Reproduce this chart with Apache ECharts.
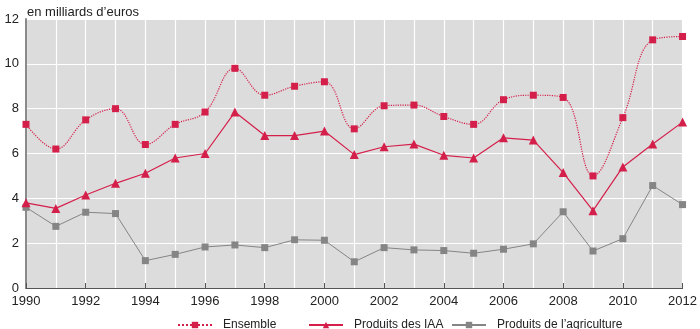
<!DOCTYPE html>
<html><head><meta charset="utf-8">
<script src="https://cdn.jsdelivr.net/npm/echarts@6/dist/echarts.min.js"></script>
<style>html,body{margin:0;padding:0;background:#fff}#c{width:700px;height:329px}</style>
</head><body><div id="c"></div>
<script>
const years = ['1990','1991','1992','1993','1994','1995','1996','1997','1998','1999','2000','2001','2002','2003','2004','2005','2006','2007','2008','2009','2010','2011','2012'];
const ensemble = [7.3,6.2,7.5,8.0,6.4,7.3,7.85,9.8,8.6,9.0,9.2,7.1,8.13,8.16,7.65,7.3,8.4,8.6,8.5,5.0,7.6,11.07,11.22];
const iaa = [3.8,3.55,4.15,4.67,5.12,5.8,6.0,7.85,6.8,6.8,7.0,5.95,6.3,6.42,5.92,5.8,6.7,6.6,5.15,3.45,5.4,6.42,7.4];
const agri = [3.6,2.75,3.38,3.32,1.22,1.5,1.83,1.92,1.8,2.15,2.13,1.17,1.8,1.7,1.67,1.55,1.73,1.97,3.4,1.65,2.2,4.57,3.72];
const seriesNames = ['Ensemble','Produits des IAA','Produits de l’agriculture'];
const yTitle = "en milliards d’euros";
const RED = '#d51f4b', GRAY = '#858585';
const chart = echarts.init(document.getElementById('c'), null, {renderer:'canvas'});
const font = '"Liberation Sans", Arial, sans-serif';
const legendCommon = {top:314,itemWidth:34,itemHeight:8,textStyle:{fontSize:12,color:'#222',fontFamily:font,padding:[0,0,0,6]}};
chart.setOption({
  animation:false,
  textStyle:{fontFamily:font},
  title:{text:yTitle,left:22,top:1,textStyle:{fontSize:13,fontWeight:'normal',color:'#222',fontFamily:font}},
  grid:{left:26,right:12,top:19,bottom:41,show:true,backgroundColor:'#dcdcdc',borderWidth:0},
  legend:[
    Object.assign({left:172,data:[seriesNames[0]]},legendCommon),
    Object.assign({left:303,data:[seriesNames[1]]},legendCommon),
    Object.assign({left:446,data:[seriesNames[2]]},legendCommon)
  ],
  xAxis:{type:'category',data:years,boundaryGap:false,
    axisLine:{lineStyle:{color:'#555',width:1.2}},
    axisTick:{inside:true,length:5,interval:1,lineStyle:{color:'#555'}},
    axisLabel:{interval:1,fontSize:13,color:'#222',margin:7,fontFamily:font},
    splitLine:{show:true,interval:0,lineStyle:{color:'#fff',width:1.2}}},
  yAxis:{type:'value',min:0,max:12,interval:2,
    axisLine:{show:true,lineStyle:{color:'#8a8a8a',width:2}},
    axisTick:{show:false},
    axisLabel:{fontSize:13,color:'#222',margin:7,fontFamily:font},
    splitLine:{lineStyle:{color:'#fff',width:1.2}}},
  series:[
    {name:seriesNames[0],type:'line',data:ensemble,smooth:0.4,symbol:'rect',symbolSize:7,
      lineStyle:{color:RED,width:1.2,type:'dotted'},itemStyle:{color:RED},z:3},
    {name:seriesNames[1],type:'line',data:iaa,symbol:'triangle',symbolSize:9,
      lineStyle:{color:RED,width:1.2},itemStyle:{color:RED},z:2},
    {name:seriesNames[2],type:'line',data:agri,symbol:'rect',symbolSize:7,
      lineStyle:{color:GRAY,width:1},itemStyle:{color:GRAY},z:1}
  ]
});
</script></body></html>
